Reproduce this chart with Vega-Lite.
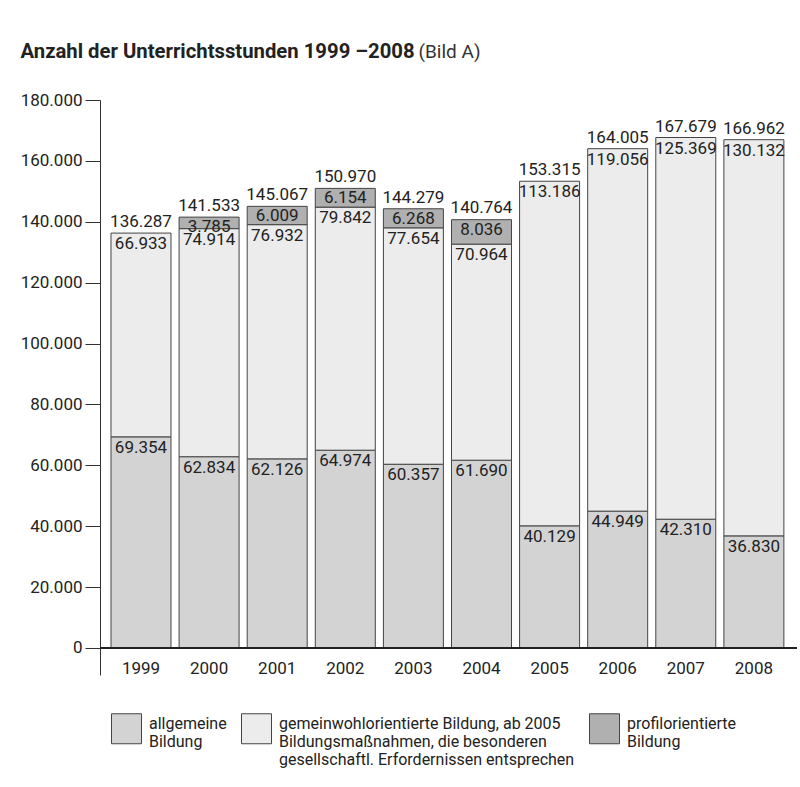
{
  "$schema": "https://vega.github.io/schema/vega-lite/v6.json",
  "autosize": {"type": "none"},
  "width": 697,
  "height": 575,
  "padding": {"left": 100, "top": 100, "right": 3, "bottom": 112},
  "background": "white",
  "config": {
    "font": "Roboto",
    "view": {"stroke": null},
    "locale": {"number": {"decimal": ",", "thousands": ".", "grouping": [3], "currency": ["", " €"]}}
  },
  "datasets": {
    "seg": [
      {"year": "1999", "cat": "allgemeine Bildung", "value": 69354},
      {"year": "1999", "cat": "gemeinwohlorientierte Bildung", "value": 66933},
      {"year": "2000", "cat": "allgemeine Bildung", "value": 62834},
      {"year": "2000", "cat": "gemeinwohlorientierte Bildung", "value": 74914},
      {"year": "2000", "cat": "profilorientierte Bildung", "value": 3785},
      {"year": "2001", "cat": "allgemeine Bildung", "value": 62126},
      {"year": "2001", "cat": "gemeinwohlorientierte Bildung", "value": 76932},
      {"year": "2001", "cat": "profilorientierte Bildung", "value": 6009},
      {"year": "2002", "cat": "allgemeine Bildung", "value": 64974},
      {"year": "2002", "cat": "gemeinwohlorientierte Bildung", "value": 79842},
      {"year": "2002", "cat": "profilorientierte Bildung", "value": 6154},
      {"year": "2003", "cat": "allgemeine Bildung", "value": 60357},
      {"year": "2003", "cat": "gemeinwohlorientierte Bildung", "value": 77654},
      {"year": "2003", "cat": "profilorientierte Bildung", "value": 6268},
      {"year": "2004", "cat": "allgemeine Bildung", "value": 61690},
      {"year": "2004", "cat": "gemeinwohlorientierte Bildung", "value": 70964},
      {"year": "2004", "cat": "profilorientierte Bildung", "value": 8036},
      {"year": "2005", "cat": "allgemeine Bildung", "value": 40129},
      {"year": "2005", "cat": "gemeinwohlorientierte Bildung", "value": 113186},
      {"year": "2006", "cat": "allgemeine Bildung", "value": 44949},
      {"year": "2006", "cat": "gemeinwohlorientierte Bildung", "value": 119056},
      {"year": "2007", "cat": "allgemeine Bildung", "value": 42310},
      {"year": "2007", "cat": "gemeinwohlorientierte Bildung", "value": 125369},
      {"year": "2008", "cat": "allgemeine Bildung", "value": 36830},
      {"year": "2008", "cat": "gemeinwohlorientierte Bildung", "value": 130132}
    ],
    "tot": [
      {"year": "1999", "total": 136287},
      {"year": "2000", "total": 141533},
      {"year": "2001", "total": 145067},
      {"year": "2002", "total": 150970},
      {"year": "2003", "total": 144279},
      {"year": "2004", "total": 140764},
      {"year": "2005", "total": 153315},
      {"year": "2006", "total": 164005},
      {"year": "2007", "total": 167679},
      {"year": "2008", "total": 166962}
    ]
  },
  "encoding": {
    "x": {
      "field": "year",
      "type": "nominal",
      "scale": {"paddingInner": 0.119, "paddingOuter": 0.177, "align": 0.456},
      "axis": {
        "labelAngle": 0,
        "domain": false,
        "ticks": false,
        "tickSize": 0,
        "labelPadding": -7,
        "labelBaseline": "middle",
        "labelFontSize": 17,
        "labelColor": "#222",
        "title": "(Bild A)",
        "titleX": 318,
        "titleY": -618,
        "titleAlign": "left",
        "titleAnchor": null,
        "titleBaseline": "alphabetic",
        "titleFontSize": 19,
        "titleFontWeight": "normal",
        "titleColor": "#333"
      }
    }
  },
  "layer": [
    {
      "data": {"name": "seg"},
      "transform": [
        {"stack": "value", "groupby": ["year"], "sort": [{"field": "cat", "order": "ascending"}], "as": ["v0", "v1"]}
      ],
      "mark": {"type": "bar", "stroke": "#444", "strokeWidth": 1},
      "encoding": {
        "y": {
          "field": "v1",
          "type": "quantitative",
          "scale": {"domain": [-8869, 180000], "nice": false, "zero": false},
          "axis": {
            "values": [0, 20000, 40000, 60000, 80000, 100000, 120000, 140000, 160000, 180000],
            "format": ",d",
            "grid": false,
            "tickSize": 15,
            "tickColor": "#333",
            "domainColor": "#333",
            "labelPadding": 3,
            "labelFontSize": 17,
            "labelColor": "#222",
            "title": "Anzahl der Unterrichtsstunden 1999 –2008",
            "titleAngle": 0,
            "titleAlign": "left",
            "titleAnchor": null,
            "titleBaseline": "alphabetic",
            "titleX": -80,
            "titleY": -43,
            "titleFontSize": 20.3,
            "titleFontWeight": "bold",
            "titleColor": "#222"
          }
        },
        "y2": {"field": "v0"},
        "color": {
          "field": "cat",
          "type": "nominal",
          "scale": {
            "domain": ["allgemeine Bildung", "gemeinwohlorientierte Bildung", "profilorientierte Bildung"],
            "range": ["#d3d3d3", "#ececec", "#b0b0b0"]
          },
          "legend": {
            "title": null,
            "orient": "none",
            "legendX": 11,
            "legendY": 613,
            "direction": "horizontal",
            "columns": 3,
            "padding": 0,
            "symbolType": "square",
            "symbolSize": 900,
            "symbolStrokeColor": "#444",
            "symbolStrokeWidth": 1,
            "symbolOpacity": 1,
            "labelFontSize": 16,
            "labelLineHeight": 17,
            "labelOffset": 7,
            "labelLimit": 500,
            "labelColor": "#222",
            "labelBaseline": "alphabetic",
            "columnPadding": 12,
            "labelExpr": "datum.label == 'allgemeine Bildung' ? ['allgemeine', 'Bildung', ''] : datum.label == 'profilorientierte Bildung' ? ['profilorientierte', 'Bildung', ''] : ['gemeinwohlorientierte Bildung, ab 2005', 'Bildungsmaßnahmen, die besonderen', 'gesellschaftl. Erfordernissen entsprechen']"
          }
        }
      }
    },
    {
      "data": {"name": "seg"},
      "mark": {"type": "rule", "color": "#222", "strokeWidth": 1},
      "encoding": {"y": {"datum": 0, "type": "quantitative"}, "x": null}
    },
    {
      "data": {"name": "seg"},
      "transform": [
        {"stack": "value", "groupby": ["year"], "sort": [{"field": "cat", "order": "ascending"}], "as": ["v0", "v1"]},
        {"filter": "datum.cat != 'profilorientierte Bildung'"}
      ],
      "mark": {"type": "text", "baseline": "top", "dy": 3, "fontSize": 17, "color": "#222"},
      "encoding": {
        "y": {"field": "v1", "type": "quantitative"},
        "text": {"field": "value", "type": "quantitative", "format": ",d"}
      }
    },
    {
      "data": {"name": "seg"},
      "transform": [
        {"stack": "value", "groupby": ["year"], "sort": [{"field": "cat", "order": "ascending"}], "as": ["v0", "v1"]},
        {"filter": "datum.cat == 'profilorientierte Bildung'"}
      ],
      "mark": {"type": "text", "baseline": "middle", "dy": 10, "fontSize": 17, "color": "#222"},
      "encoding": {
        "y": {"field": "v1", "type": "quantitative"},
        "text": {"field": "value", "type": "quantitative", "format": ",d"}
      }
    },
    {
      "data": {"name": "tot"},
      "mark": {"type": "text", "baseline": "alphabetic", "dy": -6, "fontSize": 17, "color": "#222"},
      "encoding": {
        "y": {"field": "total", "type": "quantitative"},
        "text": {"field": "total", "type": "quantitative", "format": ",d"}
      }
    }
  ]
}
